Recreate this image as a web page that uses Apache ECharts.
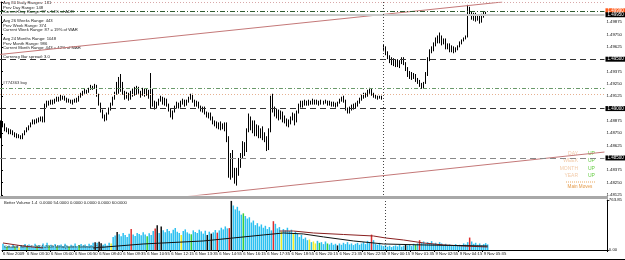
<!DOCTYPE html>
<html>
<head>
<meta charset="utf-8">
<title>EURUSD M5</title>
<script src="https://cdn.jsdelivr.net/npm/echarts@6.0.0/dist/echarts.min.js"></script>
<style>
html, body { margin: 0; padding: 0; background: #fff; }
#main { width: 625px; height: 260px; }
</style>
</head>
<body>
<div id="main"></div>
<script>
// time scale labels, one every 12 slots
var tickLabels = ['6 Nov 2009', '6 Nov 03:10', '6 Nov 05:00', '6 Nov 06:50', '6 Nov 08:40', '6 Nov 09:35',
    '6 Nov 10:55', '6 Nov 12:15', '6 Nov 13:35', '6 Nov 14:55', '6 Nov 16:15', '6 Nov 17:35', '6 Nov 18:55',
    '6 Nov 20:15', '6 Nov 21:35', '6 Nov 22:55', '9 Nov 00:15', '9 Nov 01:35', '9 Nov 02:55', '9 Nov 04:15', '9 Nov 05:35'];
var slotCount = 302;   // bars plus the empty chart shift on the right
var dayStart = 191;    // first bar of 9 Nov

// candles, pips above 1.4800: [open, close, low, high]
var candles = [
    [80,85,70,88],[85,83,81,87],[83,79,77,85],[79,78,76,81],[78,76,74,80],[76,77,74,79],[77,75,73,78],[75,73,71,76],[73,71,70,75],[71,72,70,74],
    [72,70,69,73],[70,74,69,75],[74,77,73,78],[77,79,76,81],[79,82,78,83],[82,85,81,86],[85,87,84,89],[87,86,84,89],[86,89,85,90],[89,88,86,91],
    [88,90,87,92],[90,88,86,92],[88,103,86,105],[103,106,101,108],[106,105,103,108],[105,107,104,109],[107,106,104,109],[106,108,105,110],[108,110,107,112],[110,109,107,112],
    [109,112,108,114],[112,111,109,113],[111,110,108,113],[110,107,106,111],[107,108,106,110],[108,106,105,109],[106,107,104,109],[107,109,106,110],[109,108,106,111],[108,112,107,113],
    [112,114,111,116],[114,116,113,118],[116,118,115,120],[118,117,115,119],[117,120,116,121],[120,122,119,124],[122,121,119,123],[121,123,120,125],[123,114,112,124],[114,105,103,115],
    [105,98,96,106],[98,93,90,99],[93,90,87,94],[90,95,88,96],[95,99,94,101],[99,104,98,106],[104,110,103,112],[110,115,109,117],[115,120,114,127],[120,118,115,132],
    [118,123,117,135],[123,116,114,127],[116,112,109,118],[112,115,110,117],[115,111,108,116],[111,113,109,118],[113,118,112,120],[118,116,113,122],[116,120,114,123],[120,117,115,122],
    [117,114,111,118],[114,118,113,121],[118,115,112,120],[115,117,113,120],[117,113,110,119],[113,118,100,136],[118,106,102,120],[106,102,99,108],[102,105,100,107],[105,108,103,110],
    [108,111,107,113],[111,106,104,112],[106,109,103,111],[109,104,102,110],[104,99,97,105],[99,93,91,100],[93,97,89,98],[97,101,96,103],[101,105,100,107],[105,102,100,106],
    [102,106,101,108],[106,108,104,110],[108,104,102,109],[104,107,103,109],[107,110,106,112],[110,113,109,115],[113,108,106,115],[108,104,102,109],[104,106,102,108],[106,102,100,107],
    [102,99,97,103],[99,101,96,102],[101,96,94,102],[96,93,91,97],[93,95,90,96],[95,90,88,96],[90,87,84,92],[87,85,82,88],[85,83,80,87],[83,85,79,86],
    [85,81,78,87],[81,84,79,85],[84,82,77,86],[82,70,66,86],[70,40,30,72],[40,50,28,55],[50,35,30,58],[35,27,24,40],[27,38,22,40],[38,45,32,50],
    [45,52,40,55],[52,60,50,67],[60,58,52,66],[58,78,56,80],[78,90,76,95],[90,82,78,92],[82,86,75,88],[86,78,72,88],[78,80,72,84],[80,75,70,83],
    [75,78,70,80],[78,72,68,82],[72,70,66,76],[70,62,57,72],[62,78,58,80],[78,108,76,113],[108,100,96,115],[100,95,92,102],[95,98,90,100],[98,92,88,99],
    [92,96,89,98],[96,90,86,97],[90,88,85,93],[88,84,82,90],[84,86,81,89],[86,90,84,92],[90,94,88,96],[94,88,83,95],[88,96,86,98],[96,103,95,105],
    [103,106,101,108],[106,104,101,108],[104,107,103,109],[107,105,103,108],[105,107,103,109],[107,106,104,108],[106,108,104,110],[108,106,104,109],[106,107,104,109],[107,105,103,108],
    [105,107,104,109],[107,106,104,108],[106,107,105,109],[107,105,103,108],[105,106,103,108],[106,104,102,107],[104,105,102,107],[105,103,101,106],[103,106,102,107],[106,108,105,110],
    [108,110,107,112],[110,108,106,113],[108,100,98,109],[100,97,95,101],[97,100,95,102],[100,103,98,104],[103,101,99,105],[101,104,100,106],[104,106,102,108],[106,109,105,111],
    [109,112,108,114],[112,114,110,116],[114,113,111,116],[113,117,112,119],[117,119,115,121],[119,115,113,120],[115,113,111,116],[113,112,110,114],[112,111,109,113],[111,112,110,113],
    [112,110,109,113],[160,162,158,165],[162,156,154,163],[156,152,150,158],[152,148,146,154],[148,150,144,152],[150,145,143,151],[145,148,142,150],[148,144,142,150],[144,147,141,149],
    [147,150,145,152],[150,146,144,152],[146,140,138,147],[140,134,132,142],[134,136,130,138],[136,132,129,137],[132,134,130,136],[134,130,127,135],[130,128,125,131],[128,125,122,129],
    [125,122,120,126],[122,126,120,127],[126,135,125,137],[135,150,133,152],[150,158,148,160],[158,160,156,163],[160,165,158,167],[165,170,163,172],[170,168,166,174],[168,173,166,177],
    [173,167,164,174],[167,170,165,171],[170,163,160,171],[163,165,160,166],[165,160,157,166],[160,162,157,164],[162,159,156,163],[159,161,157,162],[161,163,159,164],[163,166,162,168],
    [166,169,165,170],[169,171,168,172],[171,173,170,174],[173,202,172,205],[202,196,194,203],[196,192,190,198],[192,195,189,197],[195,190,188,197],[190,193,189,195],[193,188,186,194],
    [188,194,187,196],[194,196,192,198],[196,195,194,198]
];

// Better Volume: ticks per bar and bar type
var volumes = [
    95,60,55,70,45,80,50,65,40,75,
    55,90,60,85,70,50,95,60,75,55,
    100,65,110,70,80,60,90,55,75,85,
    60,95,70,55,80,65,100,60,75,90,
    70,85,60,95,75,110,120,110,125,105,
    80,95,70,110,100,200,220,275,240,210,
    260,230,200,250,320,235,215,260,245,225,
    270,235,210,255,230,290,330,380,260,360,
    300,270,320,290,255,310,335,280,260,230,
    290,315,270,250,240,300,275,260,310,285,
    250,295,230,280,250,270,305,265,300,340,
    315,360,330,335,750,680,620,660,600,540,
    560,520,480,500,420,450,380,410,360,390,
    340,370,320,350,300,440,400,330,350,280,
    320,300,340,290,310,260,280,250,200,230,
    170,190,150,160,120,130,100,140,110,120,
    90,130,100,85,110,80,95,70,100,80,
    110,90,120,85,100,75,95,110,80,100,
    120,90,140,110,235,150,95,80,110,70,
    60,75,50,65,45,60,70,55,80,50,
    65,90,70,85,60,95,80,100,150,110,
    130,90,120,105,135,95,110,85,120,100,
    80,95,70,85,60,75,90,65,80,70,
    100,85,120,190,130,95,110,80,100,70,
    90,105,85
];
var volTypes = (
    'ccgcccgcyc' + 'ccgccccgcc' + 'cccgcccgcc' + 'cccgccccgc' + 'cccccckckk' +
    'ccccycckcc' + 'ccccrccccc' + 'ccgcccrkck' + 'cccccccccy' + 'ccccgccccc' +
    'cckckccrcc' + 'cccrkccccc' + 'gccccccccc' + 'cccccrcccy' + 'cccccycccc' +
    'cccycyycgc' + 'ccgcccckcc' + 'cccccccccc' + 'ccccrccccc' + 'cccccccccc' +
    'ckccccgcrc' + 'cccccccccc' + 'cccccccccc' + 'cccrcccccc' + 'ccc').split('');

// volume averages, [bar, ticks]
var volSlow = [[0,107],[10,61],[20,31],[21,null],[138,290],[145,290],[155,260],[170,237],[185,214],[191,184],[200,153],[210,107],[220,77],[230,61],[242,46]];
var volFast = [[45,31],[70,92],[100,138],[115,184],[130,230],[140,260],[150,245],[160,200],[175,138],[190,92],[210,77],[242,61]];

// horizontal levels and trend lines
var levelPrices = [1.50074, 1.49990, 1.49950, 1.49500, 1.49210, 1.49150, 1.49000, 1.48500];
var upperTrend = [[-0.5, 1.49548], [250.4, 1.50079]];
var lowerTrend = [[91.4, 1.48106], [301.5, 1.48560]];

var infoLines = ['Avg 80 Daily Ranges: 181', 'Prev Day Range: 148', 'Current Day Range: 97 = 54% of ADR',
    'Avg 26 Weeks Range: 443', 'Prev Week Range: 374', 'Current Week Range: 87 = 19% of WAR',
    'Avg 24 Months Range: 1048', 'Prev Month Range: 986', 'Current Month Range: 443 = 42% of MAR',
    'Currency Bar spread: 3.0'];
var moveNames = ['DAY', 'WEEK', 'MONTH', 'YEAR'];
var moveStates = ['UP', 'UP', 'UP', 'UP'];

var BASE = 1.48;
function toPrice(p) { return +(BASE + p / 10000).toFixed(5); }

var FONT = 'Liberation Sans';
var volPalette = { c: '#2cc0f0', r: '#dd2e2e', k: '#111111', g: '#38cc38', y: '#eeee2a' };

var slots = [];
for (var i = 0; i < slotCount; i++) slots.push(String(i));

var ohlc = candles.map(function (c) { return c.map(toPrice); });
var volData = volumes.map(function (v, i) {
    return { value: v, itemStyle: { color: volPalette[volTypes[i]] } };
});

function boxLabel(bg) {
    return {
        show: true, position: 'end', distance: 1, fontFamily: FONT, fontSize: 4.5,
        color: '#fff', backgroundColor: bg, padding: [0, 2],
        formatter: function (p) { return Number(p.value).toFixed(5); }
    };
}
var levelStyles = [
    { lineStyle: { color: '#d8a8a8', type: [1, 2] }, label: { show: false } },
    { lineStyle: { color: '#2e5a2e', type: [5, 2, 1, 2] }, label: boxLabel('#ff5a1a') },
    { lineStyle: { color: '#c8c8c8', type: 'solid', width: 2 }, label: boxLabel('#000') },
    { lineStyle: { color: '#333', type: [6, 4] }, label: boxLabel('#000') },
    { lineStyle: { color: '#6a9a6a', type: [4, 2, 1, 2] }, label: { show: false } },
    { lineStyle: { color: '#e6b090', type: [1, 2] }, label: { show: false } },
    { lineStyle: { color: '#333', type: [6, 4] }, label: boxLabel('#000') },
    { lineStyle: { color: '#888', type: [6, 4] }, label: boxLabel('#000') }
];
var levelLines = levelPrices.map(function (p, i) {
    var s = levelStyles[i];
    return { yAxis: p, lineStyle: s.lineStyle, label: s.label };
});
levelLines.push({ xAxis: dayStart, lineStyle: { color: '#444', type: [1, 2] }, label: { show: false } });

var graphics = [];
infoLines.forEach(function (t, i) {
    var y = i < 9 ? 1 + Math.floor(i / 3) * 18 + (i % 3) * 4.6 : 55;
    graphics.push({ type: 'text', left: 3, top: y, z: 1,
        style: { text: t, fontFamily: FONT, fontSize: 4.2, fill: '#222' } });
});
graphics.push({ type: 'text', left: 3, top: 81, style: { text: '#774363 buy', fontFamily: FONT, fontSize: 4.2, fill: '#333' } });
moveNames.forEach(function (n, i) {
    graphics.push({ type: 'text', x: 578, y: 151 + i * 7.4,
        style: { text: n, fontFamily: FONT, fontSize: 5, fill: '#f2caa8', align: 'right' } });
    graphics.push({ type: 'text', x: 588, y: 151 + i * 7.4,
        style: { text: moveStates[i], fontFamily: FONT, fontSize: 5, fill: '#66cc44' } });
});
graphics.push({ type: 'line', shape: { x1: 566, y1: 182, x2: 596, y2: 182 },
    style: { stroke: '#eaa860', lineWidth: 1, lineDash: [1, 1] } });
graphics.push({ type: 'text', x: 580, y: 184, style: { text: 'Main Moves', fontFamily: FONT, fontSize: 4.6, fill: '#e49a48', align: 'center' } });
graphics.push({ type: 'rect', shape: { x: 0, y: 196, width: 608, height: 3 }, style: { fill: '#a8a8a8' } });
graphics.push({ type: 'text', left: 4, top: 201, style: { text: 'Better Volume 1.4  0.0000 54.0000 0.0000 0.0000 0.0000 60.0000', fontFamily: FONT, fontSize: 4.2, fill: '#222' } });
graphics.push({ type: 'text', left: 4, top: 245, z: 10, style: { text: 'Created: MT4, \u00a9 2001-2009 MetaQuotes Software Corp.', fontFamily: FONT, fontSize: 4, fill: '#333' } });
graphics.push({ type: 'line', shape: { x1: 0, y1: 259.5, x2: 625, y2: 259.5 }, style: { stroke: '#000', lineWidth: 1 } });

var option = {
    animation: false,
    backgroundColor: '#fff',
    textStyle: { fontFamily: FONT },
    grid: [
        { left: 0, right: 17, top: 2, bottom: 65 },
        { left: 0, right: 17, top: 200, bottom: 10 }
    ],
    xAxis: [
        { type: 'category', gridIndex: 0, data: slots, boundaryGap: true,
          axisLine: { show: false }, axisTick: { show: false }, axisLabel: { show: false } },
        { type: 'value', gridIndex: 0, min: -0.5, max: slotCount - 0.5, show: false },
        { type: 'category', gridIndex: 1, data: slots, boundaryGap: true,
          axisLine: { show: true, lineStyle: { color: '#000' } },
          axisTick: { show: true, length: 2, lineStyle: { color: '#000' },
              interval: function (idx) { return idx % 12 === 0 && idx / 12 < tickLabels.length; } },
          axisLabel: { show: true, fontSize: 4.2, color: '#111', margin: 2, align: 'left',
              interval: function (idx) { return idx % 12 === 0 && idx / 12 < tickLabels.length; },
              formatter: function (v, idx) { return tickLabels[idx / 12] || ''; } } }
    ],
    yAxis: [
        { type: 'value', gridIndex: 0, position: 'right', min: 1.48125, max: 1.50079, interval: 0.00125,
          axisLine: { show: true, lineStyle: { color: '#000' } },
          axisTick: { show: true, length: 2, lineStyle: { color: '#000' } },
          axisLabel: { fontSize: 4.3, color: '#111', margin: 2,
              formatter: function (v) { return v > 1.4995 ? '' : v.toFixed(5); } },
          splitLine: { show: false } },
        { type: 'value', gridIndex: 1, position: 'right', min: 0, max: 763.85, interval: 763.85,
          axisLine: { show: true, lineStyle: { color: '#000' } },
          axisTick: { show: true, length: 2, lineStyle: { color: '#000' } },
          axisLabel: { fontSize: 4.3, color: '#111', margin: 2, formatter: function (v) { return v.toFixed(2); } },
          splitLine: { show: false } }
    ],
    series: [
        { type: 'candlestick', xAxisIndex: 0, yAxisIndex: 0, data: ohlc, barWidth: 1,
          itemStyle: { color: '#fff', color0: '#000', borderColor: '#000', borderColor0: '#000', borderWidth: 1 },
          markLine: { silent: true, symbol: 'none', animation: false, precision: 5, data: levelLines } },
        { type: 'line', xAxisIndex: 1, yAxisIndex: 0, data: upperTrend, symbol: 'none',
          lineStyle: { color: '#c47878', width: 1 } },
        { type: 'line', xAxisIndex: 1, yAxisIndex: 0, data: lowerTrend, symbol: 'none',
          lineStyle: { color: '#c47878', width: 1 } },
        { type: 'bar', xAxisIndex: 2, yAxisIndex: 1, data: volData, barWidth: 1.5,
          markLine: { silent: true, symbol: 'none', animation: false, label: { show: false },
              data: [{ xAxis: dayStart, lineStyle: { color: '#444', type: [1, 2] } }] } },
        { type: 'line', xAxisIndex: 2, yAxisIndex: 1, data: volSlow, symbol: 'none',
          lineStyle: { color: '#8a2020', width: 1 } },
        { type: 'line', xAxisIndex: 2, yAxisIndex: 1, data: volFast, symbol: 'none',
          lineStyle: { color: '#111', width: 1 } }
    ],
    graphic: graphics
};

var chart = echarts.init(document.getElementById('main'));
chart.setOption(option);
</script>
</body>
</html>
